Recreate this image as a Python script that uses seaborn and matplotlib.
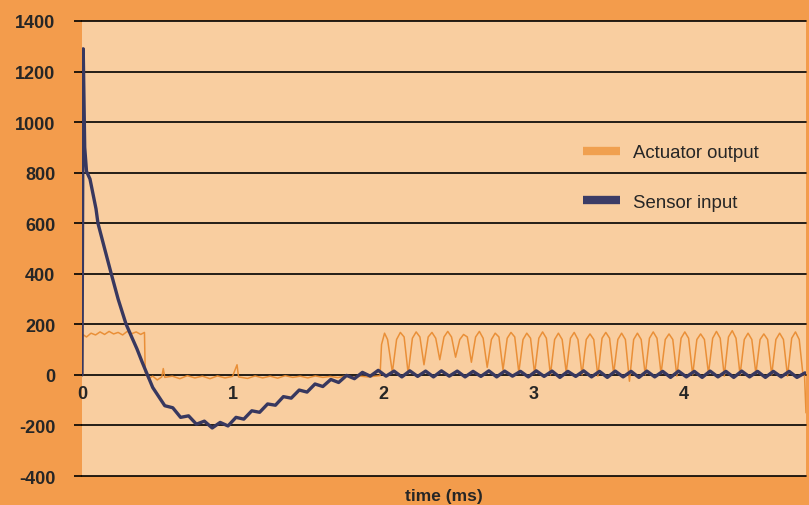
"""Actuator output vs sensor input over the first ~5 ms (scope trace style)."""

import numpy as np
import pandas as pd
import seaborn as sns
import matplotlib.pyplot as plt

# --- data (time in ms, amplitude in counts) ---
act_time = [
    0.000, 0.005, 0.030, 0.060, 0.090, 0.120, 0.150, 0.180, 0.210, 0.240,
    0.270, 0.300, 0.330, 0.360, 0.390, 0.415, 0.420, 0.440, 0.470, 0.500,
    0.530, 0.540, 0.550, 0.600, 0.650, 0.700, 0.750, 0.800, 0.850, 0.900,
    0.950, 1.000, 1.030, 1.040, 1.100, 1.150, 1.200, 1.250, 1.300, 1.350,
    1.400, 1.450, 1.500, 1.550, 1.600, 1.650, 1.700, 1.750, 1.800, 1.850,
    1.900, 1.950, 1.980,
    1.990, 2.010, 2.030, 2.062,
    2.090, 2.115, 2.140, 2.167,
    2.195, 2.220, 2.245, 2.272,
    2.300, 2.325, 2.350, 2.377,
    2.405, 2.430, 2.455, 2.482,
    2.510, 2.535, 2.560, 2.587,
    2.615, 2.640, 2.665, 2.692,
    2.720, 2.745, 2.770, 2.797,
    2.825, 2.850, 2.875, 2.902,
    2.930, 2.955, 2.980, 3.007,
    3.035, 3.060, 3.085, 3.112,
    3.140, 3.165, 3.190, 3.217,
    3.245, 3.270, 3.295, 3.322,
    3.350, 3.375, 3.400, 3.427,
    3.455, 3.480, 3.505, 3.532,
    3.560, 3.585, 3.610, 3.637,
    3.665, 3.690, 3.715, 3.742,
    3.770, 3.795, 3.820, 3.847,
    3.875, 3.900, 3.925, 3.952,
    3.980, 4.005, 4.030, 4.057,
    4.085, 4.110, 4.135, 4.162,
    4.190, 4.215, 4.240, 4.267,
    4.295, 4.320, 4.345, 4.372,
    4.400, 4.425, 4.450, 4.477,
    4.505, 4.530, 4.555, 4.582,
    4.610, 4.635, 4.660, 4.687,
    4.715, 4.740, 4.765, 4.790,
    4.800, 4.810,
]
act_value = [
    0, 160, 150, 165, 158, 170, 160, 172, 162, 168,
    158, 172, 163, 170, 160, 168, 10, -15, -5, -20,
    -8, 25, -10, -5, -15, -3, -12, -5, -15, -4,
    -12, -6, 40, -8, -14, -4, -12, -5, -13, -3,
    -10, -5, -12, -4, -10, -6, -11, -4, -9, -5,
    -8, -5, -3,
    120, 165, 140, 10,
    140, 168, 150, 5,
    145, 170, 150, 40,
    150, 168, 145, 60,
    150, 172, 150, 70,
    140, 160, 150, 50,
    150, 172, 145, 30,
    140, 165, 150, 20,
    145, 168, 150, 10,
    140, 165, 145, 5,
    145, 170, 145, 0,
    140, 165, 140, 10,
    145, 168, 140, 0,
    140, 162, 140, -5,
    145, 168, 145, 5,
    140, 165, 140, -25,
    140, 165, 140, 0,
    145, 170, 145, 5,
    140, 162, 140, -5,
    145, 170, 145, 0,
    140, 162, 140, 5,
    145, 172, 145, -5,
    150, 175, 145, 0,
    140, 165, 140, 5,
    140, 162, 140, 0,
    140, 165, 140, -5,
    145, 170, 140, 0,
    0, -150,
]

sens_time = [
    0.000, 0.008, 0.018, 0.030, 0.053, 0.093, 0.106, 0.150, 0.193, 0.240,
    0.292, 0.330, 0.365, 0.400, 0.432, 0.470, 0.520,
    0.550, 0.603, 0.655, 0.708, 0.760, 0.813, 0.865, 0.918, 0.970, 1.023,
    1.075, 1.128, 1.180, 1.233, 1.285, 1.338, 1.390, 1.443, 1.495, 1.548,
    1.600, 1.653, 1.705, 1.758, 1.810, 1.863, 1.915, 1.968, 2.020, 2.073,
    2.125, 2.178, 2.230, 2.283, 2.335, 2.388, 2.440, 2.493, 2.545, 2.598,
    2.650, 2.703, 2.755, 2.808, 2.860, 2.913, 2.965, 3.018, 3.070, 3.123,
    3.175, 3.228, 3.280, 3.333, 3.385, 3.438, 3.490, 3.543, 3.595, 3.648,
    3.700, 3.753, 3.805, 3.858, 3.910, 3.963, 4.015, 4.068, 4.120, 4.173,
    4.225, 4.278, 4.330, 4.383, 4.435, 4.488, 4.540, 4.593, 4.645, 4.698,
    4.750, 4.803,
]
sens_value = [
    0, 1290, 900, 805, 775, 657, 600, 500, 403, 300,
    202, 150, 103, 50, 4, -50, -95,
    -122, -130, -168, -162, -195, -183, -210, -188, -202, -168,
    -175, -142, -148, -115, -120, -86, -92, -60, -68, -36,
    -46, -18, -30, -2, -15, 10, -5, 18, -5, 15,
    -8, 16, -6, 15, -8, 16, -5, 15, -8, 14,
    -6, 16, -8, 15, -5, 14, -8, 16, -6, 15,
    -10, 14, -6, 16, -8, 14, -10, 15, -8, 14,
    -10, 15, -8, 14, -10, 15, -8, 14, -10, 15,
    -8, 14, -10, 15, -8, 14, -10, 14, -8, 14,
    -10, 8,
]

y_ticks = [-400, -200, 0, 200, 400, 600, 800, 1000, 1200, 1400]
x_ticks = [0, 1, 2, 3, 4]

ORANGE_BG = '#F39C4C'
PLOT_BG = '#F9CEA0'
ACT_COLOR = '#E8892D'
SENS_COLOR = '#38385F'


def main():
    sns.set_style('white')
    plt.rcParams['font.family'] = ['Liberation Sans', 'DejaVu Sans']

    act = pd.DataFrame({'time': act_time, 'value': act_value})
    sens = pd.DataFrame({'time': sens_time, 'value': sens_value})

    fig = plt.figure(figsize=(8.09, 5.06), dpi=100, facecolor=ORANGE_BG)
    W, H = 809, 506
    ax = fig.add_axes([82 / W, 1 - 477 / H, (806 - 82) / W, (477 - 22) / H])
    ax.set_facecolor(PLOT_BG)

    sns.lineplot(data=act, x='time', y='value', ax=ax, color=ACT_COLOR,
                 lw=1.1, alpha=0.9, sort=False, estimator=None,
                 label='Actuator output')
    sns.lineplot(data=sens, x='time', y='value', ax=ax, color=SENS_COLOR,
                 lw=2.4, sort=False, estimator=None, label='Sensor input')

    ax.set_xlim(0, 4.81)
    ax.set_ylim(-400, 1400)

    # horizontal rules every 200, running a little past the left edge
    ax.set_yticks(y_ticks)
    ax.set_yticklabels([str(v) for v in y_ticks], fontsize=13,
                       fontweight='bold')
    ax.yaxis.grid(True, color='black', lw=1.2)
    for gl in ax.yaxis.get_gridlines():
        gl.set_clip_on(False)
    ax.tick_params(axis='y', length=5.8, width=1.2, color='black', pad=13.5,
                   left=True)

    # x tick labels sit just under the zero line
    ax.spines['bottom'].set_position(('data', 0))
    ax.set_xticks(x_ticks)
    ax.set_xticklabels([str(v) for v in x_ticks], fontsize=13,
                       fontweight='bold')
    ax.tick_params(axis='x', length=0, pad=7)
    ax.xaxis.grid(False)
    for side in ['left', 'right', 'top', 'bottom']:
        ax.spines[side].set_visible(False)

    ax.set_xlabel('')
    ax.set_ylabel('')
    fig.text(444 / W, 1 - 497 / H, 'time (ms)', ha='center', va='center',
             fontsize=12.5, fontweight='bold')

    leg = ax.legend(loc='center left', bbox_to_anchor=(3.33, 781),
                    bbox_transform=ax.transData, frameon=False, fontsize=13.4,
                    handlelength=2.0, handletextpad=0.7, labelspacing=1.75,
                    borderpad=0, borderaxespad=0)
    handle_colors = ['#F0A050', '#3C3C66']
    for h, c in zip(leg.legend_handles, handle_colors):
        h.set_linewidth(6)
        h.set_solid_capstyle('butt')
        h.set_color(c)
        h.set_alpha(1)

    fig.savefig('out.png', dpi=100, facecolor=ORANGE_BG)


if __name__ == '__main__':
    main()
